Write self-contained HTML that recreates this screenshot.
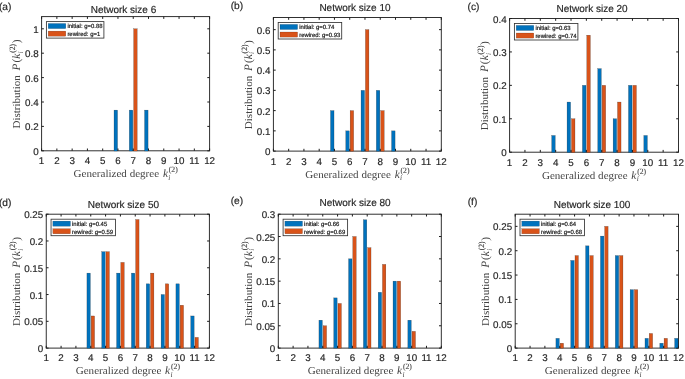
<!DOCTYPE html><html><head><meta charset="utf-8"><style>html,body{margin:0;padding:0;background:#fff}svg{display:block}text{font-family:"Liberation Sans",sans-serif;fill:#262626;text-rendering:geometricPrecision;stroke:#262626;stroke-width:0.18px}.s text{font-family:"Liberation Serif",serif;fill:#424242;stroke:none}.i{font-style:italic}.s text.u{stroke:#424242;stroke-width:0.12px}</style></head><body>
<svg width="685" height="379" viewBox="0 0 685 379">
<rect width="685" height="379" fill="#fff"/>
<g>
<clipPath id="ca"><rect x="41.6" y="16.6" width="168" height="134.7"/></clipPath>
<rect x="41.6" y="16.6" width="168" height="134.2" fill="none" stroke="#262626" stroke-width="0.95"/>
<g clip-path="url(#ca)" stroke="#000" stroke-opacity="0.55" stroke-width="0.35">
<rect x="114.03" y="110.13" width="3.5" height="41.12" fill="#0072BD"/>
<rect x="129.3" y="110.13" width="3.5" height="41.12" fill="#0072BD"/>
<rect x="144.58" y="110.13" width="3.5" height="41.12" fill="#0072BD"/>
<rect x="133.67" y="28.8" width="3.5" height="122.45" fill="#D95319"/>
</g>
<path d="M41.6 150.8v-2.3M41.6 16.6v2.3M56.87 150.8v-2.3M56.87 16.6v2.3M72.15 150.8v-2.3M72.15 16.6v2.3M87.42 150.8v-2.3M87.42 16.6v2.3M102.69 150.8v-2.3M102.69 16.6v2.3M117.96 150.8v-2.3M117.96 16.6v2.3M133.24 150.8v-2.3M133.24 16.6v2.3M148.51 150.8v-2.3M148.51 16.6v2.3M163.78 150.8v-2.3M163.78 16.6v2.3M179.05 150.8v-2.3M179.05 16.6v2.3M194.33 150.8v-2.3M194.33 16.6v2.3M209.6 150.8v-2.3M209.6 16.6v2.3M41.6 150.8h2.3M209.6 150.8h-2.3M41.6 126.4h2.3M209.6 126.4h-2.3M41.6 102h2.3M209.6 102h-2.3M41.6 77.6h2.3M209.6 77.6h-2.3M41.6 53.2h2.3M209.6 53.2h-2.3M41.6 28.8h2.3M209.6 28.8h-2.3" stroke="#1c1c1c" stroke-width="1" fill="none"/>
<rect x="46.4" y="21.6" width="57.5" height="16.5" fill="#fff" stroke="#333" stroke-width="0.85"/>
<rect x="48.2" y="23.5" width="17.6" height="5.1" fill="#0072BD" stroke="#000" stroke-opacity="0.5" stroke-width="0.3"/>
<rect x="48.2" y="31.1" width="17.6" height="5.1" fill="#D95319" stroke="#000" stroke-opacity="0.5" stroke-width="0.3"/>
</g>
<g>
<clipPath id="cb"><rect x="273.4" y="17.5" width="167.9" height="134.1"/></clipPath>
<rect x="273.4" y="17.5" width="167.9" height="133.6" fill="none" stroke="#262626" stroke-width="0.95"/>
<g clip-path="url(#cb)" stroke="#000" stroke-opacity="0.55" stroke-width="0.35">
<rect x="330.52" y="110.62" width="3.5" height="40.93" fill="#0072BD"/>
<rect x="345.79" y="130.86" width="3.5" height="20.69" fill="#0072BD"/>
<rect x="361.05" y="90.37" width="3.5" height="61.18" fill="#0072BD"/>
<rect x="376.32" y="90.37" width="3.5" height="61.18" fill="#0072BD"/>
<rect x="391.58" y="130.86" width="3.5" height="20.69" fill="#0072BD"/>
<rect x="350.15" y="110.62" width="3.5" height="40.93" fill="#D95319"/>
<rect x="365.42" y="29.65" width="3.5" height="121.9" fill="#D95319"/>
<rect x="380.68" y="110.62" width="3.5" height="40.93" fill="#D95319"/>
</g>
<path d="M273.4 151.1v-2.3M273.4 17.5v2.3M288.66 151.1v-2.3M288.66 17.5v2.3M303.93 151.1v-2.3M303.93 17.5v2.3M319.19 151.1v-2.3M319.19 17.5v2.3M334.45 151.1v-2.3M334.45 17.5v2.3M349.72 151.1v-2.3M349.72 17.5v2.3M364.98 151.1v-2.3M364.98 17.5v2.3M380.25 151.1v-2.3M380.25 17.5v2.3M395.51 151.1v-2.3M395.51 17.5v2.3M410.77 151.1v-2.3M410.77 17.5v2.3M426.04 151.1v-2.3M426.04 17.5v2.3M441.3 151.1v-2.3M441.3 17.5v2.3M273.4 151.1h2.3M441.3 151.1h-2.3M273.4 130.86h2.3M441.3 130.86h-2.3M273.4 110.62h2.3M441.3 110.62h-2.3M273.4 90.37h2.3M441.3 90.37h-2.3M273.4 70.13h2.3M441.3 70.13h-2.3M273.4 49.89h2.3M441.3 49.89h-2.3M273.4 29.65h2.3M441.3 29.65h-2.3" stroke="#1c1c1c" stroke-width="1" fill="none"/>
<rect x="278.2" y="22.5" width="63.5" height="16.5" fill="#fff" stroke="#333" stroke-width="0.85"/>
<rect x="280" y="24.4" width="17.6" height="5.1" fill="#0072BD" stroke="#000" stroke-opacity="0.5" stroke-width="0.3"/>
<rect x="280" y="32" width="17.6" height="5.1" fill="#D95319" stroke="#000" stroke-opacity="0.5" stroke-width="0.3"/>
</g>
<g>
<clipPath id="cc"><rect x="509.6" y="18.5" width="168.9" height="134.2"/></clipPath>
<rect x="509.6" y="18.5" width="168.9" height="133.7" fill="none" stroke="#262626" stroke-width="0.95"/>
<g clip-path="url(#cc)" stroke="#000" stroke-opacity="0.55" stroke-width="0.35">
<rect x="551.71" y="135.49" width="3.52" height="17.16" fill="#0072BD"/>
<rect x="567.06" y="102.06" width="3.52" height="50.59" fill="#0072BD"/>
<rect x="582.42" y="85.35" width="3.52" height="67.3" fill="#0072BD"/>
<rect x="597.77" y="68.64" width="3.52" height="84.01" fill="#0072BD"/>
<rect x="613.13" y="118.77" width="3.52" height="33.88" fill="#0072BD"/>
<rect x="628.48" y="85.35" width="3.52" height="67.3" fill="#0072BD"/>
<rect x="643.84" y="135.49" width="3.52" height="17.16" fill="#0072BD"/>
<rect x="571.46" y="118.77" width="3.52" height="33.88" fill="#D95319"/>
<rect x="586.81" y="35.21" width="3.52" height="117.44" fill="#D95319"/>
<rect x="602.16" y="85.35" width="3.52" height="67.3" fill="#D95319"/>
<rect x="617.52" y="102.06" width="3.52" height="50.59" fill="#D95319"/>
<rect x="632.87" y="85.35" width="3.52" height="67.3" fill="#D95319"/>
</g>
<path d="M509.6 152.2v-2.3M509.6 18.5v2.3M524.95 152.2v-2.3M524.95 18.5v2.3M540.31 152.2v-2.3M540.31 18.5v2.3M555.66 152.2v-2.3M555.66 18.5v2.3M571.02 152.2v-2.3M571.02 18.5v2.3M586.37 152.2v-2.3M586.37 18.5v2.3M601.73 152.2v-2.3M601.73 18.5v2.3M617.08 152.2v-2.3M617.08 18.5v2.3M632.44 152.2v-2.3M632.44 18.5v2.3M647.79 152.2v-2.3M647.79 18.5v2.3M663.15 152.2v-2.3M663.15 18.5v2.3M678.5 152.2v-2.3M678.5 18.5v2.3M509.6 152.2h2.3M678.5 152.2h-2.3M509.6 118.77h2.3M678.5 118.77h-2.3M509.6 85.35h2.3M678.5 85.35h-2.3M509.6 51.93h2.3M678.5 51.93h-2.3M509.6 18.5h2.3M678.5 18.5h-2.3" stroke="#1c1c1c" stroke-width="1" fill="none"/>
<rect x="514.4" y="23.5" width="63.5" height="16.5" fill="#fff" stroke="#333" stroke-width="0.85"/>
<rect x="516.2" y="25.4" width="17.6" height="5.1" fill="#0072BD" stroke="#000" stroke-opacity="0.5" stroke-width="0.3"/>
<rect x="516.2" y="33" width="17.6" height="5.1" fill="#D95319" stroke="#000" stroke-opacity="0.5" stroke-width="0.3"/>
</g>
<g>
<clipPath id="cd"><rect x="46.25" y="214.2" width="163.15" height="134.4"/></clipPath>
<rect x="46.25" y="214.2" width="163.15" height="133.9" fill="none" stroke="#262626" stroke-width="0.95"/>
<g clip-path="url(#cd)" stroke="#000" stroke-opacity="0.55" stroke-width="0.35">
<rect x="86.93" y="273.12" width="3.4" height="75.43" fill="#0072BD"/>
<rect x="101.76" y="251.69" width="3.4" height="96.86" fill="#0072BD"/>
<rect x="116.59" y="273.12" width="3.4" height="75.43" fill="#0072BD"/>
<rect x="131.42" y="273.12" width="3.4" height="75.43" fill="#0072BD"/>
<rect x="146.25" y="283.83" width="3.4" height="64.72" fill="#0072BD"/>
<rect x="161.09" y="294.54" width="3.4" height="54.01" fill="#0072BD"/>
<rect x="175.92" y="283.83" width="3.4" height="64.72" fill="#0072BD"/>
<rect x="190.75" y="315.96" width="3.4" height="32.59" fill="#0072BD"/>
<rect x="91.17" y="315.96" width="3.4" height="32.59" fill="#D95319"/>
<rect x="106" y="251.69" width="3.4" height="96.86" fill="#D95319"/>
<rect x="120.83" y="262.4" width="3.4" height="86.15" fill="#D95319"/>
<rect x="135.66" y="219.56" width="3.4" height="128.99" fill="#D95319"/>
<rect x="150.5" y="273.12" width="3.4" height="75.43" fill="#D95319"/>
<rect x="165.33" y="283.83" width="3.4" height="64.72" fill="#D95319"/>
<rect x="180.16" y="305.25" width="3.4" height="43.3" fill="#D95319"/>
<rect x="194.99" y="337.39" width="3.4" height="11.16" fill="#D95319"/>
</g>
<path d="M46.25 348.1v-2.3M46.25 214.2v2.3M61.08 348.1v-2.3M61.08 214.2v2.3M75.91 348.1v-2.3M75.91 214.2v2.3M90.75 348.1v-2.3M90.75 214.2v2.3M105.58 348.1v-2.3M105.58 214.2v2.3M120.41 348.1v-2.3M120.41 214.2v2.3M135.24 348.1v-2.3M135.24 214.2v2.3M150.07 348.1v-2.3M150.07 214.2v2.3M164.9 348.1v-2.3M164.9 214.2v2.3M179.74 348.1v-2.3M179.74 214.2v2.3M194.57 348.1v-2.3M194.57 214.2v2.3M209.4 348.1v-2.3M209.4 214.2v2.3M46.25 348.1h2.3M209.4 348.1h-2.3M46.25 321.32h2.3M209.4 321.32h-2.3M46.25 294.54h2.3M209.4 294.54h-2.3M46.25 267.76h2.3M209.4 267.76h-2.3M46.25 240.98h2.3M209.4 240.98h-2.3M46.25 214.2h2.3M209.4 214.2h-2.3" stroke="#1c1c1c" stroke-width="1" fill="none"/>
<rect x="51.05" y="219.2" width="64.5" height="16.5" fill="#fff" stroke="#333" stroke-width="0.85"/>
<rect x="52.85" y="221.1" width="17.6" height="5.1" fill="#0072BD" stroke="#000" stroke-opacity="0.5" stroke-width="0.3"/>
<rect x="52.85" y="228.7" width="17.6" height="5.1" fill="#D95319" stroke="#000" stroke-opacity="0.5" stroke-width="0.3"/>
</g>
<g>
<clipPath id="ce"><rect x="278.3" y="214.2" width="163" height="134.4"/></clipPath>
<rect x="278.3" y="214.2" width="163" height="133.9" fill="none" stroke="#262626" stroke-width="0.95"/>
<g clip-path="url(#ce)" stroke="#000" stroke-opacity="0.55" stroke-width="0.35">
<rect x="318.94" y="320.2" width="3.39" height="28.35" fill="#0072BD"/>
<rect x="333.76" y="297.89" width="3.39" height="50.66" fill="#0072BD"/>
<rect x="348.58" y="258.83" width="3.39" height="89.72" fill="#0072BD"/>
<rect x="363.39" y="219.78" width="3.39" height="128.77" fill="#0072BD"/>
<rect x="378.21" y="292.31" width="3.39" height="56.24" fill="#0072BD"/>
<rect x="393.03" y="281.15" width="3.39" height="67.4" fill="#0072BD"/>
<rect x="407.85" y="320.2" width="3.39" height="28.35" fill="#0072BD"/>
<rect x="323.18" y="325.78" width="3.39" height="22.77" fill="#D95319"/>
<rect x="338" y="303.47" width="3.39" height="45.08" fill="#D95319"/>
<rect x="352.81" y="236.52" width="3.39" height="112.03" fill="#D95319"/>
<rect x="367.63" y="247.68" width="3.39" height="100.88" fill="#D95319"/>
<rect x="382.45" y="264.41" width="3.39" height="84.14" fill="#D95319"/>
<rect x="397.27" y="281.15" width="3.39" height="67.4" fill="#D95319"/>
<rect x="412.09" y="331.36" width="3.39" height="17.19" fill="#D95319"/>
</g>
<path d="M278.3 348.1v-2.3M278.3 214.2v2.3M293.12 348.1v-2.3M293.12 214.2v2.3M307.94 348.1v-2.3M307.94 214.2v2.3M322.75 348.1v-2.3M322.75 214.2v2.3M337.57 348.1v-2.3M337.57 214.2v2.3M352.39 348.1v-2.3M352.39 214.2v2.3M367.21 348.1v-2.3M367.21 214.2v2.3M382.03 348.1v-2.3M382.03 214.2v2.3M396.85 348.1v-2.3M396.85 214.2v2.3M411.66 348.1v-2.3M411.66 214.2v2.3M426.48 348.1v-2.3M426.48 214.2v2.3M441.3 348.1v-2.3M441.3 214.2v2.3M278.3 348.1h2.3M441.3 348.1h-2.3M278.3 325.78h2.3M441.3 325.78h-2.3M278.3 303.47h2.3M441.3 303.47h-2.3M278.3 281.15h2.3M441.3 281.15h-2.3M278.3 258.83h2.3M441.3 258.83h-2.3M278.3 236.52h2.3M441.3 236.52h-2.3M278.3 214.2h2.3M441.3 214.2h-2.3" stroke="#1c1c1c" stroke-width="1" fill="none"/>
<rect x="283.1" y="219.2" width="64.5" height="16.5" fill="#fff" stroke="#333" stroke-width="0.85"/>
<rect x="284.9" y="221.1" width="17.6" height="5.1" fill="#0072BD" stroke="#000" stroke-opacity="0.5" stroke-width="0.3"/>
<rect x="284.9" y="228.7" width="17.6" height="5.1" fill="#D95319" stroke="#000" stroke-opacity="0.5" stroke-width="0.3"/>
</g>
<g>
<clipPath id="cf"><rect x="515.2" y="214.2" width="163.3" height="134.4"/></clipPath>
<rect x="515.2" y="214.2" width="163.3" height="133.9" fill="none" stroke="#262626" stroke-width="0.95"/>
<g clip-path="url(#cf)" stroke="#000" stroke-opacity="0.55" stroke-width="0.35">
<rect x="555.91" y="338.36" width="3.4" height="10.19" fill="#0072BD"/>
<rect x="570.76" y="260.46" width="3.4" height="88.09" fill="#0072BD"/>
<rect x="585.6" y="245.85" width="3.4" height="102.7" fill="#0072BD"/>
<rect x="600.45" y="236.11" width="3.4" height="112.44" fill="#0072BD"/>
<rect x="615.3" y="255.59" width="3.4" height="92.96" fill="#0072BD"/>
<rect x="630.14" y="289.67" width="3.4" height="58.88" fill="#0072BD"/>
<rect x="644.99" y="338.36" width="3.4" height="10.19" fill="#0072BD"/>
<rect x="659.83" y="343.23" width="3.4" height="5.32" fill="#0072BD"/>
<rect x="674.68" y="338.36" width="3.4" height="10.19" fill="#0072BD"/>
<rect x="560.16" y="343.23" width="3.4" height="5.32" fill="#D95319"/>
<rect x="575" y="255.59" width="3.4" height="92.96" fill="#D95319"/>
<rect x="589.85" y="255.59" width="3.4" height="92.96" fill="#D95319"/>
<rect x="604.7" y="226.37" width="3.4" height="122.18" fill="#D95319"/>
<rect x="619.54" y="255.59" width="3.4" height="92.96" fill="#D95319"/>
<rect x="634.39" y="289.67" width="3.4" height="58.88" fill="#D95319"/>
<rect x="649.23" y="333.49" width="3.4" height="15.06" fill="#D95319"/>
<rect x="664.08" y="338.36" width="3.4" height="10.19" fill="#D95319"/>
</g>
<path d="M515.2 348.1v-2.3M515.2 214.2v2.3M530.05 348.1v-2.3M530.05 214.2v2.3M544.89 348.1v-2.3M544.89 214.2v2.3M559.74 348.1v-2.3M559.74 214.2v2.3M574.58 348.1v-2.3M574.58 214.2v2.3M589.43 348.1v-2.3M589.43 214.2v2.3M604.27 348.1v-2.3M604.27 214.2v2.3M619.12 348.1v-2.3M619.12 214.2v2.3M633.96 348.1v-2.3M633.96 214.2v2.3M648.81 348.1v-2.3M648.81 214.2v2.3M663.65 348.1v-2.3M663.65 214.2v2.3M678.5 348.1v-2.3M678.5 214.2v2.3M515.2 348.1h2.3M678.5 348.1h-2.3M515.2 323.75h2.3M678.5 323.75h-2.3M515.2 299.41h2.3M678.5 299.41h-2.3M515.2 275.06h2.3M678.5 275.06h-2.3M515.2 250.72h2.3M678.5 250.72h-2.3M515.2 226.37h2.3M678.5 226.37h-2.3" stroke="#1c1c1c" stroke-width="1" fill="none"/>
<rect x="520" y="219.2" width="64.5" height="16.5" fill="#fff" stroke="#333" stroke-width="0.85"/>
<rect x="521.8" y="221.1" width="17.6" height="5.1" fill="#0072BD" stroke="#000" stroke-opacity="0.5" stroke-width="0.3"/>
<rect x="521.8" y="228.7" width="17.6" height="5.1" fill="#D95319" stroke="#000" stroke-opacity="0.5" stroke-width="0.3"/>
</g>
<g style="filter:grayscale(1)"><text x="41.6" y="164.2" font-size="9.8" text-anchor="middle">1</text>
<text x="56.87" y="164.2" font-size="9.8" text-anchor="middle">2</text>
<text x="72.15" y="164.2" font-size="9.8" text-anchor="middle">3</text>
<text x="87.42" y="164.2" font-size="9.8" text-anchor="middle">4</text>
<text x="102.69" y="164.2" font-size="9.8" text-anchor="middle">5</text>
<text x="117.96" y="164.2" font-size="9.8" text-anchor="middle">6</text>
<text x="133.24" y="164.2" font-size="9.8" text-anchor="middle">7</text>
<text x="148.51" y="164.2" font-size="9.8" text-anchor="middle">8</text>
<text x="163.78" y="164.2" font-size="9.8" text-anchor="middle">9</text>
<text x="179.05" y="164.2" font-size="9.8" text-anchor="middle">10</text>
<text x="194.33" y="164.2" font-size="9.8" text-anchor="middle">11</text>
<text x="209.6" y="164.2" font-size="9.8" text-anchor="middle">12</text>
<text x="38.6" y="154.8" font-size="9.8" text-anchor="end">0</text>
<text x="38.6" y="130.4" font-size="9.8" text-anchor="end">0.2</text>
<text x="38.6" y="106" font-size="9.8" text-anchor="end">0.4</text>
<text x="38.6" y="81.6" font-size="9.8" text-anchor="end">0.6</text>
<text x="38.6" y="57.2" font-size="9.8" text-anchor="end">0.8</text>
<text x="38.6" y="32.8" font-size="9.8" text-anchor="end">1</text>
<text x="90.7" y="12.5" font-size="10.2" textLength="65.5" lengthAdjust="spacingAndGlyphs">Network size 6</text>
<text x="-1.1" y="10.2" font-size="10.2">(a)</text>
<g class="s" transform="translate(73.8 177.2)"><text x="-0.3" y="0" font-size="10.6" textLength="85.6" lengthAdjust="spacingAndGlyphs">Generalized degree</text><text class="i" x="89.1" y="0" font-size="11.3">k</text><text class="i" x="94.4" y="2.8" font-size="7.4">i</text><text class="u" x="95" y="-4.9" font-size="8.0" textLength="8.9" lengthAdjust="spacingAndGlyphs">(2)</text></g>
<g class="s" transform="translate(20 128.3) rotate(-90)"><text x="-0.3" y="0" font-size="10.6" textLength="53.4" lengthAdjust="spacingAndGlyphs">Distribution</text><text class="i" x="57.9" y="0" font-size="11.3">P</text><text x="65.8" y="0" font-size="11.3">(</text><text class="i" x="69.6" y="0" font-size="11.3">k</text><text class="i" x="74.9" y="2.8" font-size="7.4">i</text><text class="u" x="75.5" y="-4.9" font-size="8.0" textLength="8.9" lengthAdjust="spacingAndGlyphs">(2)</text><text x="85.0" y="0" font-size="11.3">)</text></g>
<text x="67.4" y="28.4" font-size="5.95" style="fill:#000">initial: g=0.88</text>
<text x="67.4" y="35.95" font-size="5.95" style="fill:#000">rewired: g=1</text>
<text x="273.4" y="164.5" font-size="9.8" text-anchor="middle">1</text>
<text x="288.66" y="164.5" font-size="9.8" text-anchor="middle">2</text>
<text x="303.93" y="164.5" font-size="9.8" text-anchor="middle">3</text>
<text x="319.19" y="164.5" font-size="9.8" text-anchor="middle">4</text>
<text x="334.45" y="164.5" font-size="9.8" text-anchor="middle">5</text>
<text x="349.72" y="164.5" font-size="9.8" text-anchor="middle">6</text>
<text x="364.98" y="164.5" font-size="9.8" text-anchor="middle">7</text>
<text x="380.25" y="164.5" font-size="9.8" text-anchor="middle">8</text>
<text x="395.51" y="164.5" font-size="9.8" text-anchor="middle">9</text>
<text x="410.77" y="164.5" font-size="9.8" text-anchor="middle">10</text>
<text x="426.04" y="164.5" font-size="9.8" text-anchor="middle">11</text>
<text x="441.3" y="164.5" font-size="9.8" text-anchor="middle">12</text>
<text x="270.4" y="155.1" font-size="9.8" text-anchor="end">0</text>
<text x="270.4" y="134.86" font-size="9.8" text-anchor="end">0.1</text>
<text x="270.4" y="114.62" font-size="9.8" text-anchor="end">0.2</text>
<text x="270.4" y="94.37" font-size="9.8" text-anchor="end">0.3</text>
<text x="270.4" y="74.13" font-size="9.8" text-anchor="end">0.4</text>
<text x="270.4" y="53.89" font-size="9.8" text-anchor="end">0.5</text>
<text x="270.4" y="33.65" font-size="9.8" text-anchor="end">0.6</text>
<text x="319.4" y="10.9" font-size="10.2" textLength="71.2" lengthAdjust="spacingAndGlyphs">Network size 10</text>
<text x="230.7" y="8.8" font-size="10.2">(b)</text>
<g class="s" transform="translate(305.55 177.5)"><text x="-0.3" y="0" font-size="10.6" textLength="85.6" lengthAdjust="spacingAndGlyphs">Generalized degree</text><text class="i" x="89.1" y="0" font-size="11.3">k</text><text class="i" x="94.4" y="2.8" font-size="7.4">i</text><text class="u" x="95" y="-4.9" font-size="8.0" textLength="8.9" lengthAdjust="spacingAndGlyphs">(2)</text></g>
<g class="s" transform="translate(251.6 128.9) rotate(-90)"><text x="-0.3" y="0" font-size="10.6" textLength="53.4" lengthAdjust="spacingAndGlyphs">Distribution</text><text class="i" x="57.9" y="0" font-size="11.3">P</text><text x="65.8" y="0" font-size="11.3">(</text><text class="i" x="69.6" y="0" font-size="11.3">k</text><text class="i" x="74.9" y="2.8" font-size="7.4">i</text><text class="u" x="75.5" y="-4.9" font-size="8.0" textLength="8.9" lengthAdjust="spacingAndGlyphs">(2)</text><text x="85.0" y="0" font-size="11.3">)</text></g>
<text x="299.2" y="29.3" font-size="5.95" style="fill:#000">initial: g=0.74</text>
<text x="299.2" y="36.85" font-size="5.95" style="fill:#000">rewired: g=0.93</text>
<text x="509.6" y="165.6" font-size="9.8" text-anchor="middle">1</text>
<text x="524.95" y="165.6" font-size="9.8" text-anchor="middle">2</text>
<text x="540.31" y="165.6" font-size="9.8" text-anchor="middle">3</text>
<text x="555.66" y="165.6" font-size="9.8" text-anchor="middle">4</text>
<text x="571.02" y="165.6" font-size="9.8" text-anchor="middle">5</text>
<text x="586.37" y="165.6" font-size="9.8" text-anchor="middle">6</text>
<text x="601.73" y="165.6" font-size="9.8" text-anchor="middle">7</text>
<text x="617.08" y="165.6" font-size="9.8" text-anchor="middle">8</text>
<text x="632.44" y="165.6" font-size="9.8" text-anchor="middle">9</text>
<text x="647.79" y="165.6" font-size="9.8" text-anchor="middle">10</text>
<text x="663.15" y="165.6" font-size="9.8" text-anchor="middle">11</text>
<text x="678.5" y="165.6" font-size="9.8" text-anchor="middle">12</text>
<text x="506.6" y="156.2" font-size="9.8" text-anchor="end">0</text>
<text x="506.6" y="122.77" font-size="9.8" text-anchor="end">0.1</text>
<text x="506.6" y="89.35" font-size="9.8" text-anchor="end">0.2</text>
<text x="506.6" y="55.93" font-size="9.8" text-anchor="end">0.3</text>
<text x="506.6" y="22.5" font-size="9.8" text-anchor="end">0.4</text>
<text x="556.5" y="11.7" font-size="10.2" textLength="71.1" lengthAdjust="spacingAndGlyphs">Network size 20</text>
<text x="467.5" y="9.6" font-size="10.2">(c)</text>
<g class="s" transform="translate(542.25 178.6)"><text x="-0.3" y="0" font-size="10.6" textLength="85.6" lengthAdjust="spacingAndGlyphs">Generalized degree</text><text class="i" x="89.1" y="0" font-size="11.3">k</text><text class="i" x="94.4" y="2.8" font-size="7.4">i</text><text class="u" x="95" y="-4.9" font-size="8.0" textLength="8.9" lengthAdjust="spacingAndGlyphs">(2)</text></g>
<g class="s" transform="translate(488.2 129.95) rotate(-90)"><text x="-0.3" y="0" font-size="10.6" textLength="53.4" lengthAdjust="spacingAndGlyphs">Distribution</text><text class="i" x="57.9" y="0" font-size="11.3">P</text><text x="65.8" y="0" font-size="11.3">(</text><text class="i" x="69.6" y="0" font-size="11.3">k</text><text class="i" x="74.9" y="2.8" font-size="7.4">i</text><text class="u" x="75.5" y="-4.9" font-size="8.0" textLength="8.9" lengthAdjust="spacingAndGlyphs">(2)</text><text x="85.0" y="0" font-size="11.3">)</text></g>
<text x="535.4" y="30.3" font-size="5.95" style="fill:#000">initial: g=0.63</text>
<text x="535.4" y="37.85" font-size="5.95" style="fill:#000">rewired: g=0.74</text>
<text x="46.25" y="360.7" font-size="9.8" text-anchor="middle">1</text>
<text x="61.08" y="360.7" font-size="9.8" text-anchor="middle">2</text>
<text x="75.91" y="360.7" font-size="9.8" text-anchor="middle">3</text>
<text x="90.75" y="360.7" font-size="9.8" text-anchor="middle">4</text>
<text x="105.58" y="360.7" font-size="9.8" text-anchor="middle">5</text>
<text x="120.41" y="360.7" font-size="9.8" text-anchor="middle">6</text>
<text x="135.24" y="360.7" font-size="9.8" text-anchor="middle">7</text>
<text x="150.07" y="360.7" font-size="9.8" text-anchor="middle">8</text>
<text x="164.9" y="360.7" font-size="9.8" text-anchor="middle">9</text>
<text x="179.74" y="360.7" font-size="9.8" text-anchor="middle">10</text>
<text x="194.57" y="360.7" font-size="9.8" text-anchor="middle">11</text>
<text x="209.4" y="360.7" font-size="9.8" text-anchor="middle">12</text>
<text x="43.25" y="352.1" font-size="9.8" text-anchor="end">0</text>
<text x="43.25" y="325.32" font-size="9.8" text-anchor="end">0.05</text>
<text x="43.25" y="298.54" font-size="9.8" text-anchor="end">0.1</text>
<text x="43.25" y="271.76" font-size="9.8" text-anchor="end">0.15</text>
<text x="43.25" y="244.98" font-size="9.8" text-anchor="end">0.2</text>
<text x="43.25" y="218.2" font-size="9.8" text-anchor="end">0.25</text>
<text x="87.8" y="208" font-size="10.2" textLength="71.3" lengthAdjust="spacingAndGlyphs">Network size 50</text>
<text x="-1.1" y="205.7" font-size="10.2">(d)</text>
<g class="s" transform="translate(76.03 374.1)"><text x="-0.3" y="0" font-size="10.6" textLength="85.6" lengthAdjust="spacingAndGlyphs">Generalized degree</text><text class="i" x="89.1" y="0" font-size="11.3">k</text><text class="i" x="94.4" y="2.8" font-size="7.4">i</text><text class="u" x="95" y="-4.9" font-size="8.0" textLength="8.9" lengthAdjust="spacingAndGlyphs">(2)</text></g>
<g class="s" transform="translate(20 325.75) rotate(-90)"><text x="-0.3" y="0" font-size="10.6" textLength="53.4" lengthAdjust="spacingAndGlyphs">Distribution</text><text class="i" x="57.9" y="0" font-size="11.3">P</text><text x="65.8" y="0" font-size="11.3">(</text><text class="i" x="69.6" y="0" font-size="11.3">k</text><text class="i" x="74.9" y="2.8" font-size="7.4">i</text><text class="u" x="75.5" y="-4.9" font-size="8.0" textLength="8.9" lengthAdjust="spacingAndGlyphs">(2)</text><text x="85.0" y="0" font-size="11.3">)</text></g>
<text x="72.05" y="226" font-size="5.95" style="fill:#000">initial: g=0.45</text>
<text x="72.05" y="233.55" font-size="5.95" style="fill:#000">rewired: g=0.59</text>
<text x="278.3" y="360.7" font-size="9.8" text-anchor="middle">1</text>
<text x="293.12" y="360.7" font-size="9.8" text-anchor="middle">2</text>
<text x="307.94" y="360.7" font-size="9.8" text-anchor="middle">3</text>
<text x="322.75" y="360.7" font-size="9.8" text-anchor="middle">4</text>
<text x="337.57" y="360.7" font-size="9.8" text-anchor="middle">5</text>
<text x="352.39" y="360.7" font-size="9.8" text-anchor="middle">6</text>
<text x="367.21" y="360.7" font-size="9.8" text-anchor="middle">7</text>
<text x="382.03" y="360.7" font-size="9.8" text-anchor="middle">8</text>
<text x="396.85" y="360.7" font-size="9.8" text-anchor="middle">9</text>
<text x="411.66" y="360.7" font-size="9.8" text-anchor="middle">10</text>
<text x="426.48" y="360.7" font-size="9.8" text-anchor="middle">11</text>
<text x="441.3" y="360.7" font-size="9.8" text-anchor="middle">12</text>
<text x="275.3" y="352.1" font-size="9.8" text-anchor="end">0</text>
<text x="275.3" y="329.78" font-size="9.8" text-anchor="end">0.05</text>
<text x="275.3" y="307.47" font-size="9.8" text-anchor="end">0.1</text>
<text x="275.3" y="285.15" font-size="9.8" text-anchor="end">0.15</text>
<text x="275.3" y="262.83" font-size="9.8" text-anchor="end">0.2</text>
<text x="275.3" y="240.52" font-size="9.8" text-anchor="end">0.25</text>
<text x="275.3" y="218.2" font-size="9.8" text-anchor="end">0.3</text>
<text x="319.4" y="206.1" font-size="10.2" textLength="71.3" lengthAdjust="spacingAndGlyphs">Network size 80</text>
<text x="230.7" y="204" font-size="10.2">(e)</text>
<g class="s" transform="translate(308 374.1)"><text x="-0.3" y="0" font-size="10.6" textLength="85.6" lengthAdjust="spacingAndGlyphs">Generalized degree</text><text class="i" x="89.1" y="0" font-size="11.3">k</text><text class="i" x="94.4" y="2.8" font-size="7.4">i</text><text class="u" x="95" y="-4.9" font-size="8.0" textLength="8.9" lengthAdjust="spacingAndGlyphs">(2)</text></g>
<g class="s" transform="translate(251.6 325.75) rotate(-90)"><text x="-0.3" y="0" font-size="10.6" textLength="53.4" lengthAdjust="spacingAndGlyphs">Distribution</text><text class="i" x="57.9" y="0" font-size="11.3">P</text><text x="65.8" y="0" font-size="11.3">(</text><text class="i" x="69.6" y="0" font-size="11.3">k</text><text class="i" x="74.9" y="2.8" font-size="7.4">i</text><text class="u" x="75.5" y="-4.9" font-size="8.0" textLength="8.9" lengthAdjust="spacingAndGlyphs">(2)</text><text x="85.0" y="0" font-size="11.3">)</text></g>
<text x="304.1" y="226" font-size="5.95" style="fill:#000">initial: g=0.66</text>
<text x="304.1" y="233.55" font-size="5.95" style="fill:#000">rewired: g=0.69</text>
<text x="515.2" y="360.7" font-size="9.8" text-anchor="middle">1</text>
<text x="530.05" y="360.7" font-size="9.8" text-anchor="middle">2</text>
<text x="544.89" y="360.7" font-size="9.8" text-anchor="middle">3</text>
<text x="559.74" y="360.7" font-size="9.8" text-anchor="middle">4</text>
<text x="574.58" y="360.7" font-size="9.8" text-anchor="middle">5</text>
<text x="589.43" y="360.7" font-size="9.8" text-anchor="middle">6</text>
<text x="604.27" y="360.7" font-size="9.8" text-anchor="middle">7</text>
<text x="619.12" y="360.7" font-size="9.8" text-anchor="middle">8</text>
<text x="633.96" y="360.7" font-size="9.8" text-anchor="middle">9</text>
<text x="648.81" y="360.7" font-size="9.8" text-anchor="middle">10</text>
<text x="663.65" y="360.7" font-size="9.8" text-anchor="middle">11</text>
<text x="678.5" y="360.7" font-size="9.8" text-anchor="middle">12</text>
<text x="512.2" y="352.1" font-size="9.8" text-anchor="end">0</text>
<text x="512.2" y="327.75" font-size="9.8" text-anchor="end">0.05</text>
<text x="512.2" y="303.41" font-size="9.8" text-anchor="end">0.1</text>
<text x="512.2" y="279.06" font-size="9.8" text-anchor="end">0.15</text>
<text x="512.2" y="254.72" font-size="9.8" text-anchor="end">0.2</text>
<text x="512.2" y="230.37" font-size="9.8" text-anchor="end">0.25</text>
<text x="553.8" y="207.7" font-size="10.2" textLength="76.6" lengthAdjust="spacingAndGlyphs">Network size 100</text>
<text x="467.7" y="205.3" font-size="10.2">(f)</text>
<g class="s" transform="translate(545.05 374.1)"><text x="-0.3" y="0" font-size="10.6" textLength="85.6" lengthAdjust="spacingAndGlyphs">Generalized degree</text><text class="i" x="89.1" y="0" font-size="11.3">k</text><text class="i" x="94.4" y="2.8" font-size="7.4">i</text><text class="u" x="95" y="-4.9" font-size="8.0" textLength="8.9" lengthAdjust="spacingAndGlyphs">(2)</text></g>
<g class="s" transform="translate(488.7 325.75) rotate(-90)"><text x="-0.3" y="0" font-size="10.6" textLength="53.4" lengthAdjust="spacingAndGlyphs">Distribution</text><text class="i" x="57.9" y="0" font-size="11.3">P</text><text x="65.8" y="0" font-size="11.3">(</text><text class="i" x="69.6" y="0" font-size="11.3">k</text><text class="i" x="74.9" y="2.8" font-size="7.4">i</text><text class="u" x="75.5" y="-4.9" font-size="8.0" textLength="8.9" lengthAdjust="spacingAndGlyphs">(2)</text><text x="85.0" y="0" font-size="11.3">)</text></g>
<text x="541" y="226" font-size="5.95" style="fill:#000">initial: g=0.64</text>
<text x="541" y="233.55" font-size="5.95" style="fill:#000">rewired: g=0.68</text></g>
</svg></body></html>
